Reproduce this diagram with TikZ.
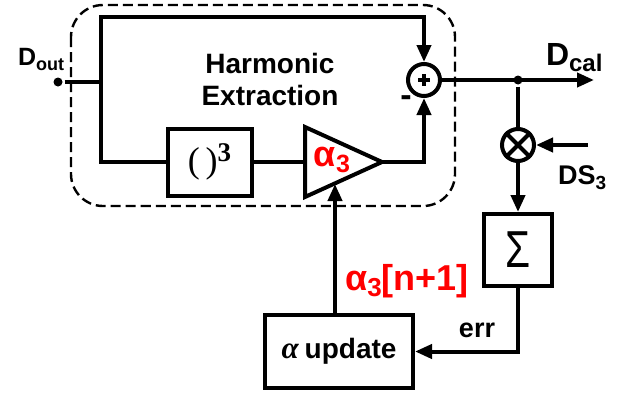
\documentclass[tikz,border=0pt]{standalone}
\usepackage{fontspec}
\setmainfont{Liberation Sans}
\newfontfamily\serifface{Liberation Serif}
\usetikzlibrary{arrows.meta,calc}
\newcommand{\fsz}[1]{\fontsize{#1}{#1}\selectfont}
\definecolor{ared}{RGB}{255,0,0}
\begin{document}
\begin{tikzpicture}[x=1pt,y=-1pt,line width=4pt,
  arr/.style={-{Triangle[length=17pt,width=14pt]}},
  blk/.style={draw,line width=4pt,inner sep=0pt},
  dotn/.style={circle,fill,inner sep=0pt,minimum size=9pt},
  sumc/.style={circle,draw,line width=4pt,inner sep=0pt,minimum size=32pt},
  lbl/.style={font=\bfseries,inner sep=0pt}]
\useasboundingbox (0,0) rectangle (623,399);
% dashed region
\draw[line width=2.4pt,dash pattern=on 10pt off 5pt,rounded corners=32pt] (71,5) rectangle (455,206);
% nodes
\node[dotn] (dout) at (58,82) {};
\coordinate (sp) at (101,82);
\coordinate (c1) at (101,17);
\node[blk,minimum width=84pt,minimum height=67pt] (cube) at (209.5,162)
  {\serifface\fsz{36}(\,)\raisebox{11pt}{\bfseries\fsz{27}3}};
\coordinate (tl) at (305,127);
\coordinate (bl) at (305,197);
\coordinate (tip) at (382,162);
\coordinate (tm) at (305,162);
\draw[line join=miter] (tl) -- (tip) -- (bl) -- cycle;
\node[sumc] (add) at (424,80) {};
\draw[line width=3.5pt] ($(add)+(-6,0)$) -- ($(add)+(6,0)$) ($(add)+(0,-6)$) -- ($(add)+(0,6)$);
\node[lbl,font=\bfseries\fsz{34}] (minus) at (406,101) {-};
\node[dotn] (jn) at (518,80) {};
\coordinate (out) at (594,80);
\node[sumc] (mul) at (518,145) {};
\draw (mul.north west) -- (mul.south east) (mul.north east) -- (mul.south west);
\coordinate (ds) at (588,145);
\node[blk,minimum width=68pt,minimum height=72pt] (sig) at (518,250) {\scalebox{0.78}[1]{\fsz{52}Σ}};
\node[blk,minimum width=148pt,minimum height=73pt] (upd) at (339,351.5)
  {{\serifface\bfseries\itshape\fsz{31}α}\hspace{6pt}{\bfseries\fsz{28}update}};
\coordinate (tb) at (335,184);
% labels
\node[lbl,font=\bfseries\fontsize{28}{32}\selectfont,align=center] (he) at (270,79) {Harmonic\\Extraction};
\node[lbl,text=ared] (a3) at (332,160) {\fsz{36}α\raisebox{-6pt}{\fsz{25}3}};
\node[lbl,text=ared] (a3n) at (407,281) {\fsz{36}α\raisebox{-6pt}{\fsz{26}3}[n+1]};
\node[lbl,anchor=base west] (doutl) at (16,65) {\fsz{25}D\raisebox{-5pt}{\fsz{18}out}};
\node[lbl,anchor=base west] (dcal) at (544,65) {\fsz{32}D\raisebox{-6pt}{\fsz{24}cal}};
\node[lbl,anchor=base west] (dsl) at (556,184) {\fsz{27}DS\raisebox{-5pt}{\fsz{19}3}};
\node[lbl,font=\bfseries\fsz{27}] (errl) at (477,330) {err};
% connectors
\draw (dout) -- (sp);
\draw[arr] (sp) -- (c1) -| (add.north);
\draw (sp) |- (cube.west);
\draw (cube.east) -- (tm);
\draw[arr] (tip) -| (add.south);
\draw[arr] (add.east) -- (out);
\draw (jn) -- (mul.north);
\draw[arr] (mul.south) -- (sig.north);
\draw[arr] (ds) -- (mul.east);
\draw[arr] (sig.south) |- (upd.east);
\draw[arr] (tb |- upd.north) -- (tb);
\end{tikzpicture}
\end{document}
